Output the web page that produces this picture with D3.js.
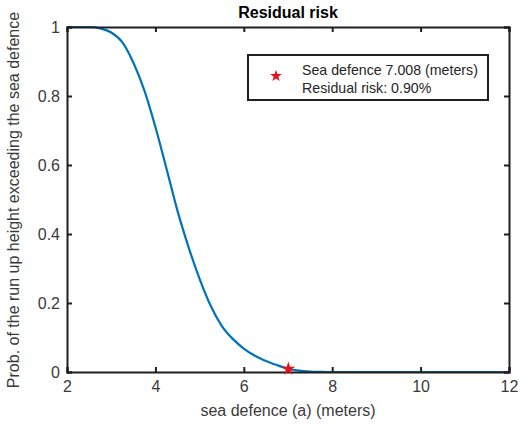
<!DOCTYPE html>
<html><head><meta charset="utf-8">
<script src="https://cdn.jsdelivr.net/npm/d3@7"></script>
<style>body{margin:0;background:#fff}text{font-family:"Liberation Sans",Arial,sans-serif}</style>
</head><body><svg id="c" width="529" height="426"></svg>
<script>
const xValues = [2,2.25,2.5,2.75,3,3.25,3.5,3.75,4,4.25,4.5,4.75,5,5.25,5.5,5.75,6,6.25,6.5,6.75,7,7.25,7.5,7.75,8,8.5,9,9.5,10,10.5,11,11.5,12];
const probValues = [1,1,1,0.996,0.984,0.956,0.897,0.816,0.71,0.59,0.467,0.362,0.27,0.192,0.134,0.096,0.068,0.047,0.032,0.02,0.0095,0.004,0.0015,0.0005,0,0,0,0,0,0,0,0,0];
const xTicks = [2,4,6,8,10,12];
const yTicks = [0,0.2,0.4,0.6,0.8,1];
const marker = {x: 7.008, y: 0.009};
const legendLines = ["Sea defence 7.008 (meters)", "Residual risk: 0.90%"];

const svg = d3.select("#c");
const L=67,R=509,T=27,B=372;
const x = d3.scaleLinear().domain([2,12]).range([L,R]);
const y = d3.scaleLinear().domain([0,1]).range([B,T]);
const axCol="#1f1f1f";
const txtCol="#3a3a3a";

// curve
const line = d3.line().x((d,i)=>x(xValues[i])).y(d=>y(d)).curve(d3.curveMonotoneX);
svg.append("path").datum(probValues).attr("d",line).attr("fill","none")
  .attr("stroke","#0072BD").attr("stroke-width",2.2);

// axes
const tl=5;
const gx=svg.append("g").attr("transform",`translate(0,${B})`)
  .call(d3.axisBottom(x).tickValues(xTicks).tickSize(-tl).tickPadding(9).tickFormat(d3.format("d")));
const gxt=svg.append("g").attr("transform",`translate(0,${T})`)
  .call(d3.axisTop(x).tickValues(xTicks).tickSize(-tl).tickFormat(""));
const gy=svg.append("g").attr("transform",`translate(${L},0)`)
  .call(d3.axisLeft(y).tickValues(yTicks).tickSize(-tl).tickPadding(7).tickFormat(d=>d3.format("")(d)));
const gyr=svg.append("g").attr("transform",`translate(${R},0)`)
  .call(d3.axisRight(y).tickValues(yTicks).tickSize(-tl).tickFormat(""));
[gx,gxt,gy,gyr].forEach(g=>{
  g.select(".domain").attr("stroke",axCol).attr("stroke-width",2);
  g.selectAll(".tick line").attr("stroke",axCol).attr("stroke-width",2);
  g.selectAll(".tick text").attr("fill",txtCol).attr("font-size",16)
   .attr("font-family","'Liberation Sans',Arial,sans-serif");
});
gy.selectAll(".tick text").attr("dy","0.35em");

// marker
svg.append("path").attr("d",d3.symbol().type(d3.symbolStar).size(60)())
  .attr("transform",`translate(${x(marker.x)},${y(marker.y)})`).attr("fill","#e8101a");

// legend
svg.append("rect").attr("x",248).attr("y",55).attr("width",240).attr("height",45)
  .attr("fill","#fff").attr("stroke",axCol).attr("stroke-width",2);
svg.append("path").attr("d",d3.symbol().type(d3.symbolStar).size(45)())
  .attr("transform","translate(276,76)").attr("fill","#e8101a");
legendLines.forEach((t,i)=>{
  svg.append("text").attr("x",302).attr("y",75+i*17.5).attr("font-size",14.2)
    .attr("fill","#262626").text(t);
});

// title and labels
svg.append("text").attr("x",288).attr("y",18).attr("text-anchor","middle")
  .attr("font-size",16).attr("font-weight","bold").attr("fill","#000").text("Residual risk");
svg.append("text").attr("x",288).attr("y",416).attr("text-anchor","middle")
  .attr("font-size",16).attr("fill",txtCol).text("sea defence (a) (meters)");
svg.append("text").attr("transform","translate(19,200) rotate(-90)").attr("text-anchor","middle")
  .attr("font-size",16).attr("fill",txtCol).text("Prob. of the run up height exceeding the sea defence");
</script></body></html>
